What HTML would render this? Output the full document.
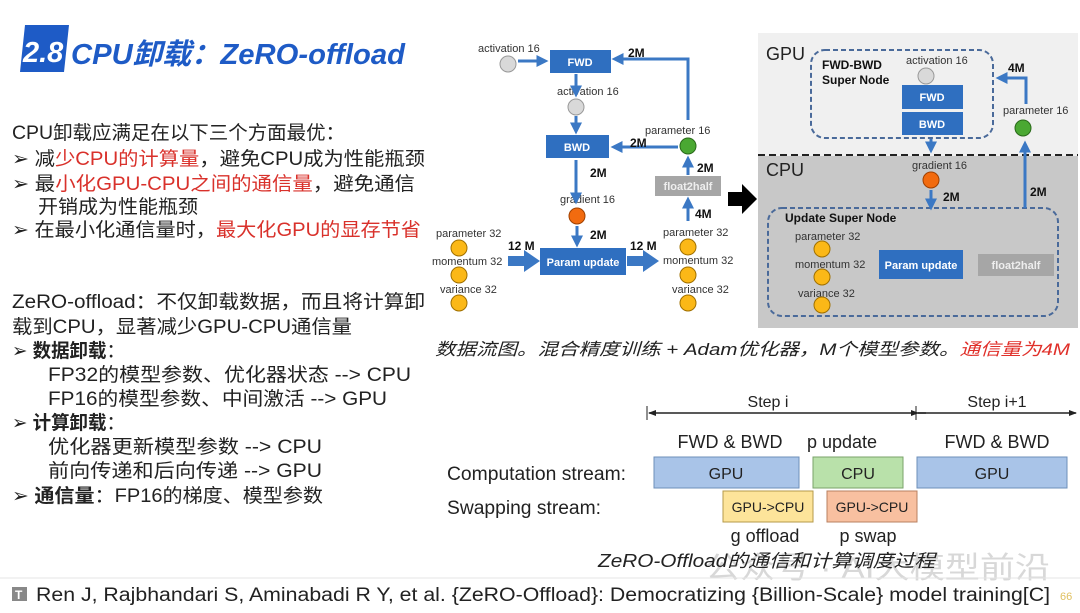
<!DOCTYPE html>
<html><head><meta charset="utf-8"><style>
body{margin:0;background:#fff;}
svg text{font-family:"Liberation Sans","Noto Sans CJK SC",sans-serif;}
</style></head><body>
<svg width="1080" height="608" viewBox="0 0 1080 608" xmlns="http://www.w3.org/2000/svg">
<defs>
<marker id="ah" markerWidth="4" markerHeight="4" refX="2.5" refY="2" orient="auto" markerUnits="strokeWidth"><path d="M0,0 L4,2 L0,4 z" fill="#3b78c4"/></marker>
<marker id="tk" markerWidth="8" markerHeight="8" refX="7" refY="4" orient="auto" markerUnits="userSpaceOnUse"><path d="M0,1 L8,4 L0,7 z" fill="#222"/></marker>
</defs>
<rect width="1080" height="608" fill="#fff"/>
<!-- title -->
<polygon points="25,25 69,25 64,72 20,72" fill="#1e5bc6"/>
<text x="23" y="62" font-size="29" font-weight="bold" font-style="italic" fill="#fff">2.8</text>
<text x="71" y="64" font-size="29" font-weight="bold" font-style="italic" fill="#1e5bc6" textLength="334" lengthAdjust="spacingAndGlyphs">CPU卸载：ZeRO-offload</text>

<!-- left text -->
<g font-size="19" fill="#222" lengthAdjust="spacingAndGlyphs">
<text x="12" y="139" textLength="333" lengthAdjust="spacingAndGlyphs">CPU卸载应满足在以下三个方面最优：</text>
<text x="12" y="165" textLength="413" lengthAdjust="spacingAndGlyphs">➢ 减<tspan fill="#d9312b">少CPU的计算量</tspan>，避免CPU成为性能瓶颈</text>
<text x="12" y="190" textLength="403" lengthAdjust="spacingAndGlyphs">➢ 最<tspan fill="#d9312b">小化GPU-CPU之间的通信量</tspan>，避免通信</text>
<text x="38" y="213" textLength="160" lengthAdjust="spacingAndGlyphs">开销成为性能瓶颈</text>
<text x="12" y="236" textLength="409" lengthAdjust="spacingAndGlyphs">➢ 在最小化通信量时，<tspan fill="#d9312b">最大化GPU的显存节省</tspan></text>
<text x="12" y="308" textLength="413" lengthAdjust="spacingAndGlyphs">ZeRO-offload：不仅卸载数据，而且将计算卸</text>
<text x="12" y="333" textLength="340" lengthAdjust="spacingAndGlyphs">载到CPU，显著减少GPU-CPU通信量</text>
<text x="12" y="357" textLength="113" lengthAdjust="spacingAndGlyphs">➢ <tspan font-weight="bold">数据卸载</tspan>：</text>
<text x="48" y="381" textLength="363" lengthAdjust="spacingAndGlyphs">FP32的模型参数、优化器状态 --&gt; CPU</text>
<text x="48" y="405" textLength="339" lengthAdjust="spacingAndGlyphs">FP16的模型参数、中间激活 --&gt; GPU</text>
<text x="12" y="429" textLength="113" lengthAdjust="spacingAndGlyphs">➢ <tspan font-weight="bold">计算卸载</tspan>：</text>
<text x="48" y="453" textLength="274" lengthAdjust="spacingAndGlyphs">优化器更新模型参数 --&gt; CPU</text>
<text x="48" y="477" textLength="274" lengthAdjust="spacingAndGlyphs">前向传递和后向传递 --&gt; GPU</text>
<text x="12" y="502" textLength="311" lengthAdjust="spacingAndGlyphs">➢ <tspan font-weight="bold">通信量</tspan>：FP16的梯度、模型参数</text>
</g>

<!-- diagram 1 -->
<g font-size="11" fill="#333">
<text x="478" y="52">activation 16</text>
<text x="557" y="95">activation 16</text>
<text x="560" y="203">gradient 16</text>
<text x="645" y="134">parameter 16</text>
<text x="436" y="237">parameter 32</text>
<text x="432" y="265">momentum 32</text>
<text x="440" y="293">variance 32</text>
<text x="663" y="236">parameter 32</text>
<text x="663" y="264">momentum 32</text>
<text x="672" y="293">variance 32</text>
</g>
<g stroke="#999" stroke-width="1">
<circle cx="508" cy="64" r="8" fill="#d9d9d9"/>
<circle cx="576" cy="107" r="8" fill="#d9d9d9"/>
</g>
<g stroke="#a07000" stroke-width="1" fill="#fbb817">
<circle cx="459" cy="248" r="8"/><circle cx="459" cy="275" r="8"/><circle cx="459" cy="303" r="8"/>
<circle cx="688" cy="247" r="8"/><circle cx="688" cy="275" r="8"/><circle cx="688" cy="303" r="8"/>
</g>
<circle cx="577" cy="216" r="8" fill="#f26b0f" stroke="#a04000"/>
<circle cx="688" cy="146" r="8" fill="#4aa832" stroke="#2a6a1a"/>
<g fill="#2f6fc0">
<rect x="550" y="50" width="61" height="23"/>
<rect x="546" y="135" width="63" height="23"/>
<rect x="540" y="248" width="86" height="27"/>
</g>
<rect x="655" y="176" width="66" height="20" fill="#a6a6a6"/>
<g font-size="11" font-weight="bold" fill="#fff" text-anchor="middle">
<text x="580" y="66">FWD</text><text x="577" y="151">BWD</text><text x="583" y="266">Param update</text>
<text x="688" y="190" fill="#eee">float2half</text>
</g>
<g stroke="#3b78c4" stroke-width="3" fill="none" marker-end="url(#ah)">
<line x1="518" y1="61" x2="544" y2="61"/>
<line x1="576" y1="74" x2="576" y2="93"/>
<line x1="576" y1="116" x2="576" y2="130"/>
<line x1="576" y1="160" x2="576" y2="200"/>
<line x1="577" y1="226" x2="577" y2="243"/>
<polyline points="688,120 688,59 616,59"/>
<line x1="678" y1="147" x2="615" y2="147"/>
<line x1="688" y1="175" x2="688" y2="160"/>
<line x1="688" y1="221" x2="688" y2="201"/>
</g>
<polygon points="508,256 524,256 524,250 540,261 524,272 524,266 508,266" fill="#3b78c4"/>
<polygon points="627,256 643,256 643,250 659,261 643,272 643,266 627,266" fill="#3b78c4"/>
<g font-size="12" font-weight="bold" fill="#111">
<text x="628" y="57">2M</text><text x="630" y="147">2M</text><text x="590" y="177">2M</text>
<text x="590" y="239">2M</text><text x="697" y="172">2M</text><text x="695" y="218">4M</text>
<text x="508" y="250">12 M</text><text x="630" y="250">12 M</text>
</g>
<polygon points="728,192 742,192 742,184 757,199 742,214 742,206 728,206" fill="#000"/>

<!-- right panel -->
<rect x="758" y="33" width="320" height="123" fill="#f0f0f0"/>
<rect x="758" y="156" width="320" height="172" fill="#c8c8c8"/>
<line x1="758" y1="155" x2="1078" y2="155" stroke="#222" stroke-width="2" stroke-dasharray="7,4"/>
<text x="766" y="60" font-size="18" fill="#222">GPU</text>
<text x="766" y="176" font-size="18" fill="#222">CPU</text>
<rect x="811" y="50" width="182" height="88" rx="14" fill="none" stroke="#4a6a9a" stroke-width="2" stroke-dasharray="5,3"/>
<rect x="768" y="208" width="290" height="108" rx="14" fill="none" stroke="#4a6a9a" stroke-width="2" stroke-dasharray="5,3"/>
<g font-size="12" font-weight="bold" fill="#111">
<text x="822" y="69">FWD-BWD</text><text x="822" y="84">Super Node</text>
<text x="785" y="222">Update Super Node</text>
<text x="1008" y="72">4M</text><text x="943" y="201">2M</text><text x="1030" y="196">2M</text>
</g>
<g font-size="11" fill="#333">
<text x="906" y="64">activation 16</text>
<text x="1003" y="114">parameter 16</text>
<text x="912" y="169">gradient 16</text>
<text x="795" y="240">parameter 32</text>
<text x="795" y="268">momentum 32</text>
<text x="798" y="297">variance 32</text>
</g>
<circle cx="926" cy="76" r="8" fill="#d9d9d9" stroke="#999"/>
<circle cx="1023" cy="128" r="8" fill="#4aa832" stroke="#2a6a1a"/>
<circle cx="931" cy="180" r="8" fill="#f26b0f" stroke="#a04000"/>
<g stroke="#a07000" stroke-width="1" fill="#fbb817">
<circle cx="822" cy="249" r="8"/><circle cx="822" cy="277" r="8"/><circle cx="822" cy="305" r="8"/>
</g>
<rect x="902" y="85" width="61" height="24" fill="#2f6fc0"/>
<rect x="902" y="112" width="61" height="23" fill="#2f6fc0"/>
<rect x="879" y="250" width="84" height="29" fill="#2f6fc0"/>
<rect x="978" y="254" width="76" height="22" fill="#a6a6a6"/>
<g font-size="11" font-weight="bold" fill="#fff" text-anchor="middle">
<text x="932" y="101">FWD</text><text x="932" y="128">BWD</text><text x="921" y="269">Param update</text>
<text x="1016" y="269" fill="#eee">float2half</text>
</g>
<g stroke="#3b78c4" stroke-width="3" fill="none" marker-end="url(#ah)">
<polyline points="1026,104 1026,78 1000,78"/>
<line x1="931" y1="139" x2="931" y2="149"/>
<line x1="931" y1="190" x2="931" y2="206"/>
<line x1="1025" y1="208" x2="1025" y2="145"/>
</g>

<text x="435" y="355" font-size="17" font-style="italic" fill="#222" textLength="635" lengthAdjust="spacingAndGlyphs">数据流图。混合精度训练 + Adam优化器，M个模型参数。<tspan fill="#e0302a">通信量为4M</tspan></text>

<!-- timeline -->
<g font-size="16" fill="#222" text-anchor="middle">
<text x="768" y="407">Step i</text><text x="997" y="407">Step i+1</text>
<text x="730" y="448" font-size="18">FWD &amp; BWD</text>
<text x="842" y="448" font-size="18">p update</text>
<text x="997" y="448" font-size="18">FWD &amp; BWD</text>
<text x="765" y="542" font-size="18">g offload</text>
<text x="868" y="542" font-size="18">p swap</text>
</g>
<line x1="647" y1="406" x2="647" y2="420" stroke="#222"/>
<line x1="916" y1="406" x2="916" y2="420" stroke="#222"/>
<line x1="916" y1="413" x2="649" y2="413" stroke="#222" stroke-width="1.5" marker-end="url(#tk)"/>
<line x1="916" y1="413" x2="1076" y2="413" stroke="#222" stroke-width="1.5" marker-end="url(#tk)"/>
<line x1="918" y1="413" x2="926" y2="413" stroke="#222" stroke-width="1.5" marker-start="url(#tk)"/>
<text x="447" y="480" font-size="19" fill="#222" textLength="179" lengthAdjust="spacingAndGlyphs">Computation stream:</text>
<text x="447" y="514" font-size="19" fill="#222" textLength="154" lengthAdjust="spacingAndGlyphs">Swapping stream:</text>
<rect x="654" y="457" width="145" height="31" fill="#a9c4e8" stroke="#6d8fba"/>
<rect x="813" y="457" width="90" height="31" fill="#b9e1aa" stroke="#7aa36a"/>
<rect x="917" y="457" width="150" height="31" fill="#a9c4e8" stroke="#6d8fba"/>
<rect x="723" y="491" width="90" height="31" fill="#fde49a" stroke="#b59a4a"/>
<rect x="827" y="491" width="90" height="31" fill="#f8c0a0" stroke="#b98060"/>
<g font-size="16" fill="#222" text-anchor="middle">
<text x="726" y="479">GPU</text><text x="858" y="479">CPU</text><text x="992" y="479">GPU</text>
<text x="768" y="512" font-size="14">GPU-&gt;CPU</text><text x="872" y="512" font-size="14">GPU-&gt;CPU</text>
</g>
<text x="705" y="578" font-size="30" fill="#c8c8c8" opacity="0.7" textLength="345" lengthAdjust="spacingAndGlyphs">公众号 · AI大模型前沿</text>
<text x="598" y="567" font-size="18" font-style="italic" fill="#222" textLength="337" lengthAdjust="spacingAndGlyphs">ZeRO-Offload的通信和计算调度过程</text>

<!-- footer -->
<line x1="0" y1="578" x2="1080" y2="578" stroke="#e4e4e4"/>
<rect x="12" y="587" width="15" height="14" fill="#888"/>
<text x="15" y="599" font-size="12" font-weight="bold" fill="#fff">T</text>
<text x="36" y="601" font-size="19" fill="#222" textLength="1014" lengthAdjust="spacingAndGlyphs">Ren J, Rajbhandari S, Aminabadi R Y, et al. {ZeRO-Offload}: Democratizing {Billion-Scale} model training[C]</text>
<text x="1060" y="600" font-size="11" fill="#e0c060">66</text>
</svg>
</body></html>
